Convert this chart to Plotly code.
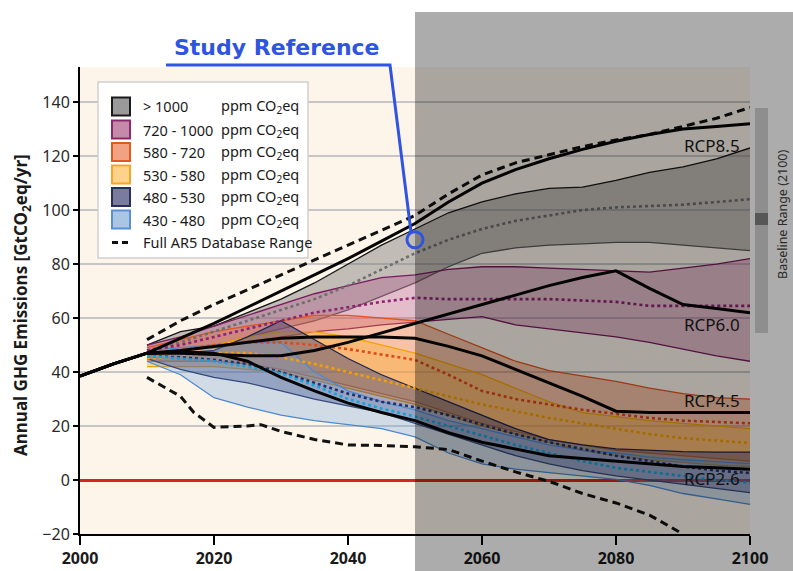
import plotly.graph_objects as go

# ---------------- data ----------------
YEARS = [2010, 2015, 2020, 2025, 2030, 2035, 2040, 2045, 2050, 2055,
         2060, 2065, 2070, 2075, 2080, 2085, 2090, 2095, 2100]
RCP_YEARS = [2000, 2005] + YEARS

GRAY_UP = [50, 55, 57, 62, 67, 73, 80, 87, 93, 99, 103, 106, 108, 108.5, 111, 114, 116, 119, 123]
GRAY_MED = [48, 51, 55, 59, 63, 67, 72, 78, 84, 89, 93, 96, 98, 100, 101, 101.5, 102, 103, 104]
GRAY_LO = [46, 48, 50, 53, 56, 59, 63, 68, 73, 79, 84, 86, 87, 87.5, 88, 88, 87, 86, 85]

PURPLE_UP = [50, 53, 57, 61, 65, 69, 72, 75, 76, 78, 79, 79, 78.5, 78, 77.5, 77, 78.5, 80, 82]
PURPLE_MED = [48, 50, 53, 56, 59, 62, 64, 66, 67.5, 67, 67, 67, 67, 66.5, 66, 64.5, 64.5, 64.5, 64.5]
PURPLE_LO = [47, 48, 49, 51, 53, 55, 56, 57.5, 58.5, 59.5, 60.5, 57.5, 56, 54.5, 53, 51, 48.5, 46, 44]

ORANGE_UP = [49, 52, 55, 57, 59, 61, 61, 60, 59, 54, 49, 44, 40.5, 38.5, 36.5, 34, 32, 30.5, 30]
ORANGE_MED = [47, 48, 50, 51, 51, 50, 48.5, 46.5, 44.5, 39, 33, 30, 28, 26, 24.5, 23, 22, 21.5, 21]
ORANGE_LO = [44, 44, 44, 43, 41, 38, 35, 32, 29, 25, 21, 18, 15, 13, 11, 10, 9, 8, 7]

YELLOW_UP = [47, 48, 50, 53, 55, 55, 53, 50, 47, 43, 39, 34, 29, 25, 23.5, 22, 21, 20, 19]
YELLOW_MED = [45, 46, 47, 47, 45.5, 43, 40, 37, 34, 31, 28, 25.5, 23, 21, 19, 17, 15.5, 14.5, 13.7]
YELLOW_LO = [42, 42, 42, 41, 40, 37, 34, 31, 28, 24, 20, 17, 14, 11, 9, 7.5, 6.5, 5.5, 5]

NAVY_UP = [47, 47, 48, 53, 59, 52, 45, 39, 34, 29, 24, 19, 15, 13, 11.5, 11, 10.5, 10.3, 10.3]
NAVY_MED = [46, 45.5, 44.5, 43, 40, 36, 32, 29, 27, 24, 20.5, 17, 14, 11.5, 9, 7, 5, 3.5, 2.6]
NAVY_LO = [45, 41, 38, 36, 33, 30, 27.5, 25, 21, 17, 13, 9, 6, 3.5, 1.5, 0, -1.5, -3, -4.7]

BLUE_UP = [48, 49, 50, 51, 51, 40, 33, 29, 26, 22, 19, 16, 13, 11, 10, 8.5, 7.5, 6.8, 6.1]
BLUE_MED = [46, 45, 44, 42, 39.5, 35, 30, 26.5, 23.5, 20, 16.5, 13, 10, 7, 4.5, 3, 1.5, 0, -1]
BLUE_LO = [44, 39, 30.5, 27, 24, 22, 20.5, 19, 16, 10, 6, 4, 2.7, 1.5, 0.2, -2, -5, -7, -9]

DB_UP = [52, 59, 65, 70.5, 76, 81.5, 87, 92.5, 98, 106, 113, 117.5, 120.5, 123.5, 126, 128, 131, 134, 138]
DB_LO_YEARS = [2010, 2015, 2017, 2020, 2025, 2027, 2030, 2035, 2040, 2045, 2050, 2055,
               2060, 2065, 2070, 2075, 2080, 2085, 2090]
DB_LO = [38, 31, 25, 19.5, 20, 20.5, 18, 15, 13, 12.8, 12.3, 11.3, 7, 3, -0.5, -5, -8.5, -13, -20]

RCP85 = [38.5, 43, 47, 52.5, 58, 64, 70, 76, 82, 88.5, 95, 103, 110, 115, 119, 122.5, 125.5, 128, 130, 131, 132]
RCP60 = [38.5, 43, 47, 47, 46.5, 46, 46, 48, 51, 54.5, 58, 61.5, 65, 68.5, 72, 75, 77.5, 71, 65, 63.5, 62]
RCP45 = [38.5, 43, 47, 48, 49.5, 51, 52.5, 53, 53, 53, 52.5, 49.5, 46, 41, 36, 31, 25.5, 25, 25, 25, 25]
RCP26 = [38.5, 43, 47, 47.5, 47, 44, 38, 33, 28.5, 25, 22, 17.5, 14, 11.5, 9, 8, 7, 6, 5, 4.5, 4]

RCP_NAMES = ["RCP8.5", "RCP6.0", "RCP4.5", "RCP2.6"]
RCP_LABEL_Y = [124, 57.5, 29.5, 0.5]

LEGEND_LABELS = ["&gt; 1000", "720 - 1000", "580 - 720", "530 - 580", "480 - 530", "430 - 480"]
LEGEND_UNIT = "ppm CO<sub>2</sub>eq"
DB_LABEL = "Full AR5 Database Range"
STUDY_YEAR, STUDY_VALUE = 2050, 89

# ---------------- styles ----------------
BANDS = [
    (GRAY_LO, GRAY_MED, GRAY_UP, "rgba(120,120,120,0.45)", "#161616", "#5a5a5a", "#6e6e6e"),
    (PURPLE_LO, PURPLE_MED, PURPLE_UP, "rgba(175,75,135,0.33)", "#7c1a60", "#7c1a60", "#8d2372"),
    (ORANGE_LO, ORANGE_MED, ORANGE_UP, "rgba(236,110,60,0.38)", "#e0561e", "#e0561e", "#e0481a"),
    (YELLOW_LO, YELLOW_MED, YELLOW_UP, "rgba(250,175,50,0.42)", "#f2a300", "#f2a300", "#f3a000"),
    (NAVY_LO, NAVY_MED, NAVY_UP, "rgba(50,60,120,0.42)", "#1d2652", "#1d2652", "#24306c"),
    (BLUE_LO, BLUE_MED, BLUE_UP, "rgba(110,160,220,0.30)", "#4a8ad0", "#4a8ad0", "#16a2da"),
]
SWATCHES = [("#9a9a9a", "#1a1a1a"), ("#c58aa9", "#8b2a6a"), ("#f0a283", "#e05a20"),
            ("#fdd28a", "#f5a623"), ("#7b7b9d", "#2a2f5a"), ("#abc5e5", "#5a90d0")]

FONT = "Noto Sans"
L, R, T, B = 80, 43, 67, 37
W, H = 793, 571
PW, PH = W - L - R, H - T - B


def px(x):
    return (x - L) / PW


def py(y):
    return (H - B - y) / PH


def note(x, y, text, size, color="#1a1a1a", xanchor="center", family=FONT, **kw):
    return dict(xref="paper", yref="paper", x=px(x), y=py(y), text=text, showarrow=False,
                xanchor=xanchor, yanchor="middle", font=dict(family=family, size=size, color=color), **kw)


fig = go.Figure()

for lo, med, up, fillc, upc, loc, medc in BANDS:
    fig.add_trace(go.Scatter(x=YEARS, y=lo, mode="lines", line=dict(color=loc, width=1.3),
                             showlegend=False, hoverinfo="skip"))
    fig.add_trace(go.Scatter(x=YEARS, y=up, mode="lines", line=dict(color=upc, width=1.3),
                             fill="tonexty", fillcolor=fillc, showlegend=False, hoverinfo="skip"))

for lo, med, up, fillc, upc, loc, medc in BANDS:
    fig.add_trace(go.Scatter(x=YEARS, y=med, mode="lines", line=dict(color=medc, width=2.6, dash="dot"),
                             showlegend=False, hoverinfo="skip"))

fig.add_trace(go.Scatter(x=YEARS, y=DB_UP, mode="lines", line=dict(color="#111", width=3, dash="8px,5px"),
                         showlegend=False))
fig.add_trace(go.Scatter(x=DB_LO_YEARS, y=DB_LO, mode="lines", line=dict(color="#111", width=3, dash="8px,5px"),
                         showlegend=False))

for vals in (RCP85, RCP60, RCP45, RCP26):
    fig.add_trace(go.Scatter(x=RCP_YEARS, y=vals, mode="lines", line=dict(color="#050505", width=3),
                             showlegend=False))

shapes = []
annotations = []

# grey overlay on the right half
shapes.append(dict(type="rect", xref="paper", yref="paper", x0=px(415), x1=1.1, y0=-0.2, y1=py(12),
                   fillcolor="rgba(0,0,0,0.325)", line=dict(width=0), layer="above"))

# baseline range bar
shapes.append(dict(type="rect", xref="paper", yref="paper", x0=px(755), x1=px(768), y0=py(333), y1=py(108),
                   fillcolor="#8e8e8e", line=dict(width=0), layer="above"))
shapes.append(dict(type="rect", xref="paper", yref="paper", x0=px(755), x1=px(768), y0=py(225), y1=py(213),
                   fillcolor="#575757", line=dict(width=0), layer="above"))
annotations.append(note(782, 214, "Baseline Range (2100)", 12.5, color="#2a2a2a", textangle=-90))

# study reference callout
BLUE = "#2f54e2"
shapes.append(dict(type="path", xref="paper", yref="paper",
                   path=f"M {px(166)},{py(65)} L {px(390)},{py(65)} L {px(411)},{py(232)}",
                   line=dict(color=BLUE, width=3), layer="above"))
shapes.append(dict(type="circle", xref="x", yref="y", x0=STUDY_YEAR - 1.2, x1=STUDY_YEAR + 1.2,
                   y0=STUDY_VALUE - 3.0, y1=STUDY_VALUE + 3.0, line=dict(color=BLUE, width=3), layer="above"))
annotations.append(note(276.5, 48, "<b>Study Reference</b>", 22, color=BLUE, family="DejaVu Sans"))

# RCP labels
for name, yv in zip(RCP_NAMES, RCP_LABEL_Y):
    annotations.append(dict(xref="x", yref="y", x=2098.8, y=yv, text=name, xanchor="right", yanchor="middle",
                            showarrow=False, font=dict(family=FONT, size=17, color="#111")))

# manual legend
shapes.append(dict(type="rect", xref="paper", yref="paper", x0=px(98), x1=px(308), y0=py(258), y1=py(82),
                   fillcolor="white", line=dict(color="#cfcfcf", width=1.5), layer="above"))
row_y = [106.5, 129.5, 152, 174.5, 197, 219.5, 242.5]
for i, (lab, (fc, lc)) in enumerate(zip(LEGEND_LABELS, SWATCHES)):
    yc = row_y[i]
    shapes.append(dict(type="rect", xref="paper", yref="paper", x0=px(112), x1=px(130),
                       y0=py(yc + 9), y1=py(yc - 9), fillcolor=fc, line=dict(color=lc, width=2), layer="above"))
    annotations.append(note(141, yc, lab, 14.5, xanchor="left"))
    annotations.append(note(219, yc, LEGEND_UNIT, 14.5, xanchor="left"))
yc = row_y[6]
shapes.append(dict(type="line", xref="paper", yref="paper", x0=px(112), x1=px(131), y0=py(yc), y1=py(yc),
                   line=dict(color="#111", width=3, dash="6px,4px"), layer="above"))
annotations.append(note(141, yc, DB_LABEL, 14.5, xanchor="left"))

# y-axis title
annotations.append(note(21, 305, "<b>Annual GHG Emissions [GtCO<sub>2</sub>eq/yr]</b>", 17, textangle=-90))

fig.update_layout(
    width=W, height=H,
    margin=dict(l=L, r=R, t=T, b=B, autoexpand=False),
    paper_bgcolor="white", plot_bgcolor="#fdf5ea",
    shapes=shapes, annotations=annotations, showlegend=False,
    xaxis=dict(range=[2000, 2100], tickvals=[2000, 2020, 2040, 2060, 2080, 2100], automargin=False,
               showgrid=False, zeroline=False, showline=True, linecolor="#000", linewidth=2,
               ticks="outside", ticklen=9, tickwidth=2, tickcolor="#000",
               tickfont=dict(family=FONT, size=16, color="#1a1a1a", weight="bold")),
    yaxis=dict(range=[-20, 153], tickvals=[-20, 0, 20, 40, 60, 80, 100, 120, 140], automargin=False,
               showgrid=True, gridcolor="#c6c6c6", gridwidth=1.5,
               zeroline=True, zerolinecolor="#d8261c", zerolinewidth=2.5,
               showline=True, linecolor="#000", linewidth=2,
               ticks="outside", ticklen=5, tickwidth=1.5, tickcolor="#000",
               tickfont=dict(family=FONT, size=16, color="#2a2a2a")),
)

fig.write_html("out.html")
